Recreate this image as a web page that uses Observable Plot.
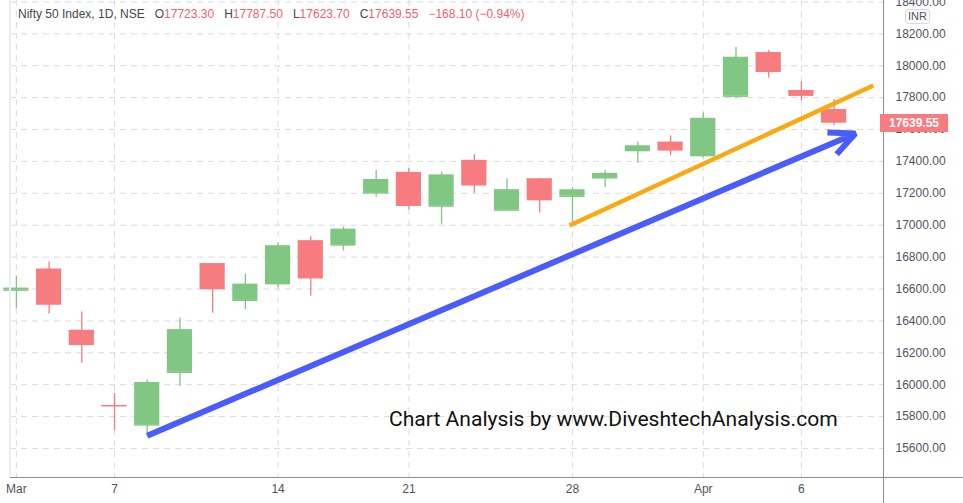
<!DOCTYPE html>
<html><head><meta charset="utf-8">
<script src="https://cdn.jsdelivr.net/npm/d3@7"></script>
<script src="https://cdn.jsdelivr.net/npm/@observablehq/plot@0.6"></script>
<style>
body{margin:0;background:#fff;font-family:"Liberation Sans",Arial,sans-serif;}
#wrap{position:relative;width:963px;height:503px;overflow:hidden;background:#fff;}
.ov{position:absolute;white-space:nowrap;}
</style></head><body><div id="wrap"></div>
<script>
// ---- data ----
const dates  = ["2022-03-02","2022-03-03","2022-03-04","2022-03-07","2022-03-08","2022-03-09","2022-03-10","2022-03-11",
                "2022-03-14","2022-03-15","2022-03-16","2022-03-17","2022-03-21","2022-03-22","2022-03-23","2022-03-24",
                "2022-03-25","2022-03-28","2022-03-29","2022-03-30","2022-03-31","2022-04-01","2022-04-04","2022-04-05",
                "2022-04-06","2022-04-07"];
const opens  = [16593.1,16723.2,16339.45,15867.95,15747.75,16078,16757.3,16528.8,16633.7,16900.65,16876.65,17202.9,17329.5,17120.4,
                17405.05,17094.95,17289,17181.85,17297.2,17468.15,17519.2,17436.9,17809.1,18080.6,17842.75,17723.3];
const highs  = [16678.5,16768.95,16456,15944.6,16028.75,16418.05,16757.3,16694.4,16887.95,16927.75,16987.9,17344.6,17353.35,17334.4,
                17442.4,17291.75,17294.9,17235.1,17343.65,17522.5,17559.8,17703.7,18114.65,18095.45,17901,17787.5];
const lows   = [16478.65,16442.95,16133.8,15711.45,15671.45,15990,16447.9,16470.9,16606.5,16555,16837.85,17175.75,17096.4,17006.3,
                17199.6,17091.15,17076.55,17003.9,17235.7,17387.2,17435.2,17422.7,17791.4,17921.55,17779.85,17623.7];
const closes = [16605.95,16498.05,16245.35,15863.15,16013.45,16345.35,16594.9,16630.45,16871.3,16663,16975.35,17287.05,17117.6,17315.5,
                17245.65,17222.75,17153,17222,17325.3,17498.25,17464.75,17670.45,18053.4,17957.4,17807.65,17639.55];
const xTickIndex  = [0,3,8,12,17,21,24];
const xTickLabels = ["Mar","7","14","21","28","Apr","6"];
const yTicks = d3.range(15600, 18401, 200);
// drawn trend lines (trading-day index, price)
const blueX = [4, 25.65];      const blueY = [15680, 17575];
const orangeX = [16.91, 26.2]; const orangeY = [16998, 17876];
const lastPrice = 17639.55;

const GREEN = "#81c784", RED = "#f77c80";
const candles = dates.map((d,i)=>({i, date:d, o:opens[i], h:highs[i], l:lows[i], c:closes[i], col: closes[i]>=opens[i]?GREEN:RED}));

const chart = Plot.plot({
  width: 963, height: 503,
  marginLeft: 10, marginRight: 80, marginTop: 0, marginBottom: 26,
  x: {domain: [-0.18, 26.51], axis: null, label: null},
  y: {domain: [15418, 18409], axis: null, label: null},
  color: {type: "identity"},
  style: {background: "transparent", overflow: "visible", fontFamily: "Liberation Sans, Arial, sans-serif"},
  marks: [
    Plot.gridY(yTicks, {stroke: "#dadce1", strokeOpacity: 1, strokeDasharray: "6,5"}),
    Plot.gridX(xTickIndex, {stroke: "#dadce1", strokeOpacity: 1, strokeDasharray: "6,5"}),
    Plot.axisY(yTicks, {anchor: "right", label: null, tickSize: 0, tickPadding: 12, textAnchor: "start",
      tickFormat: d3.format(".2f"), fontSize: 12, fill: "#50535e"}),
    Plot.axisX(xTickIndex, {anchor: "bottom", label: null, tickSize: 0, tickPadding: 7, fontSize: 12, fill: "#50535e",
      tickFormat: d => xTickLabels[xTickIndex.indexOf(d)]}),
    Plot.ruleX(candles, {x: "i", y1: "l", y2: "h", stroke: "col", strokeWidth: 1.3}),
    Plot.rect(candles, {x1: d => d.i - 0.385, x2: d => d.i + 0.385, y1: "o", y2: "c", fill: "col"}),
    Plot.ruleY(candles, {x1: d => d.i - 0.385, x2: d => d.i + 0.385, y: "o", stroke: "col", strokeWidth: 1.5}),
    Plot.link({length: 1}, {x1: () => orangeX[0], y1: () => orangeY[0], x2: () => orangeX[1], y2: () => orangeY[1],
      stroke: "#f9a912", strokeWidth: 4.5}),
    Plot.arrow({length: 1}, {x1: () => blueX[0], y1: () => blueY[0], x2: () => blueX[1], y2: () => blueY[1],
      stroke: "#4a5cfb", strokeWidth: 6, headLength: 7, headAngle: 50, strokeLinejoin: "miter", strokeLinecap: "butt"})
  ]
});
const wrap = document.getElementById("wrap");
chart.style.position = "absolute"; chart.style.left = "0"; chart.style.top = "0";
wrap.appendChild(chart);

const xs = chart.scale("x"), ys = chart.scale("y");
const axisX = xs.range[1], axisY = ys.range[0];
function add(html, css){const d=document.createElement("div");d.className="ov";d.innerHTML=html;Object.assign(d.style,css);wrap.appendChild(d);return d;}
// axis border lines
add("", {left: "10px", top: (axisY)+"px", width: "953px", height: "1px", background: "#8a8d96"});
add("", {left: (axisX)+"px", top: "0px", width: "1px", height: "503px", background: "#8a8d96"});
add("", {left: "9px", top: "0px", width: "2px", height: axisY+"px", background: "#eeeeee"});
// header
const R = "#f0616d";
add(`<span style="color:#434651">Nifty 50 Index, 1D, NSE</span>&nbsp;&nbsp;&nbsp;<span style="color:#434651">O</span><span style="color:${R}">${opens[25].toFixed(2)}</span>&nbsp;&nbsp;&nbsp;<span style="color:#434651">H</span><span style="color:${R}">${highs[25].toFixed(2)}</span>&nbsp;&nbsp;&nbsp;<span style="color:#434651">L</span><span style="color:${R}">${lows[25].toFixed(2)}</span>&nbsp;&nbsp;&nbsp;<span style="color:#434651">C</span><span style="color:${R}">${closes[25].toFixed(2)}</span>&nbsp;&nbsp;&nbsp;<span style="color:${R}">−168.10 (−0.94%)</span>`,
  {left: "18px", top: "7px", fontSize: "12px", background: "#fff"});
// INR badge
add("INR", {left: "905px", top: "9px", fontSize: "11px", color: "#50535e", border: "1px solid #d6d8de", borderRadius: "3px", padding: "0 2px", lineHeight: "13px", background: "#fff"});
// price label
const py = ys.apply(lastPrice);
add(lastPrice.toFixed(2), {left: (axisX-3)+"px", top: (py-9)+"px", width: "68px", height: "18px", lineHeight: "18px", textAlign: "center",
  background: RED, color: "#fff", fontWeight: "bold", fontSize: "12px"});
// watermark, fitted to the reference width
const wm = add("Chart Analysis by www.DiveshtechAnalysis.com", {left: "389px", top: "0px", fontSize: "20px", lineHeight: "1", color: "#111", fontFamily: "Roboto, sans-serif"});
const w0 = wm.getBoundingClientRect().width;
const fs = 20 * 449 / w0;
wm.style.fontSize = fs + "px";
wm.style.top = (428 - fs * 0.93) + "px";
</script></body></html>
